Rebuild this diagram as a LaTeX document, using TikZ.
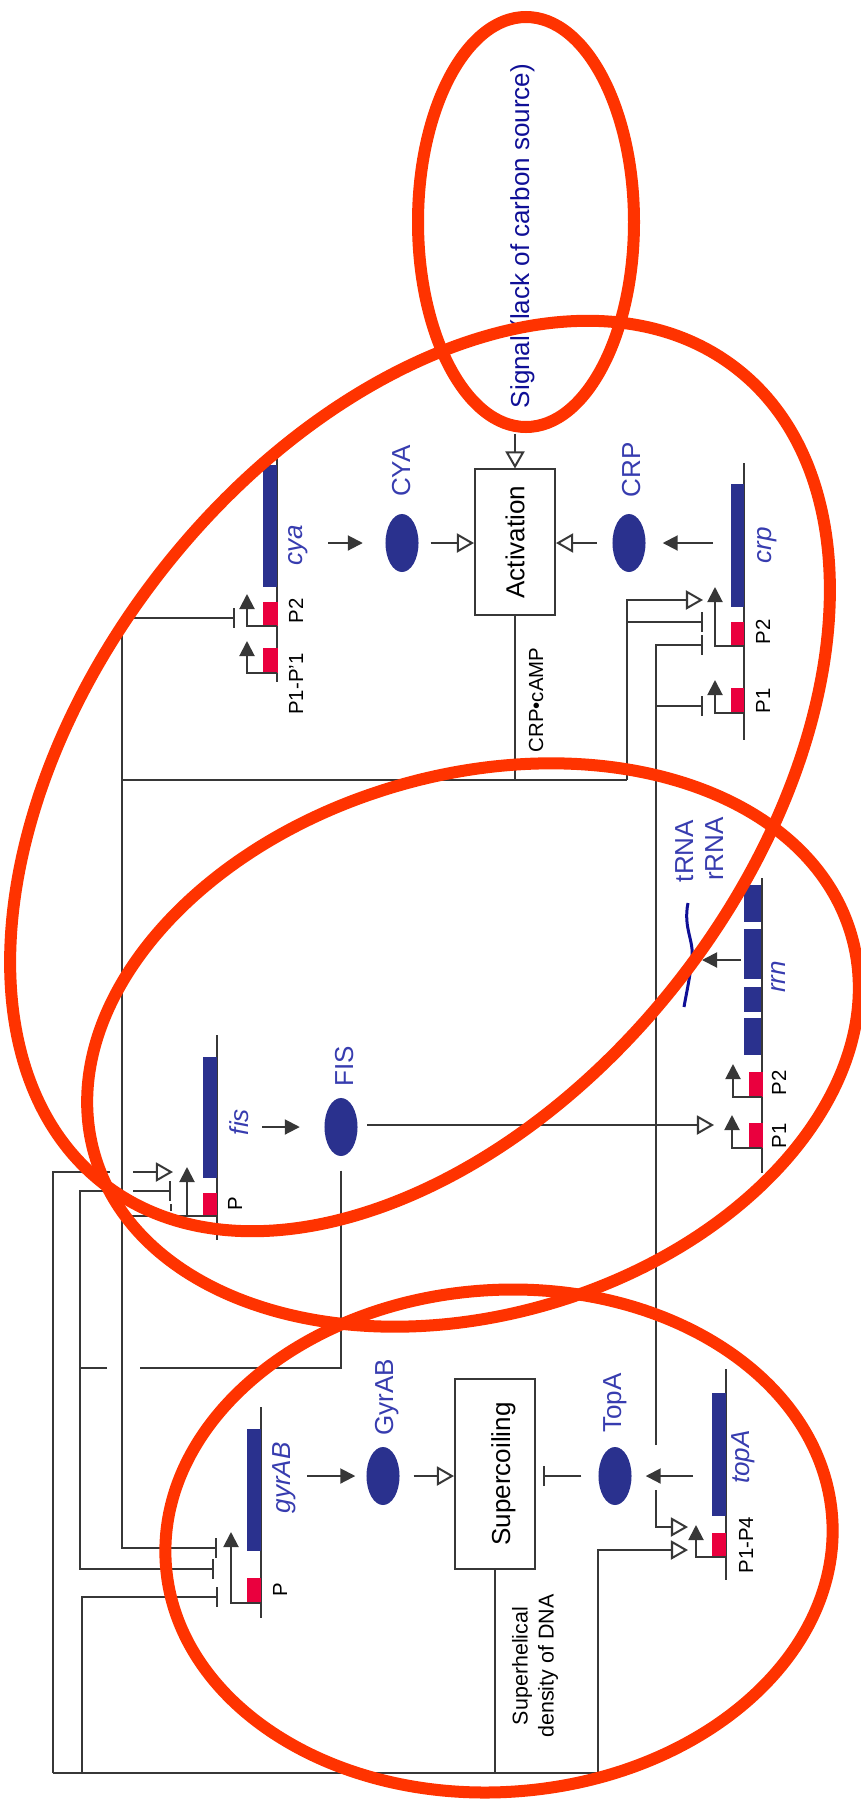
\documentclass[tikz,border=0pt]{standalone}
\usepackage{fontspec}
\setmainfont{Liberation Sans}
\usetikzlibrary{positioning, arrows.meta, shapes.geometric, calc}

\definecolor{ringred}{RGB}{255,51,0}
\definecolor{genblue}{RGB}{42,49,142}
\definecolor{promred}{RGB}{234,0,62}
\definecolor{protblue}{RGB}{55,60,175}
\definecolor{signavy}{RGB}{15,15,150}
\definecolor{wiregray}{RGB}{55,55,55}

\newcommand{\labtxt}{\fontsize{7.4}{8.5}\selectfont}
\newcommand{\promtxt}{\fontsize{5.8}{7.4}\selectfont}

\tikzset{
  wire/.style={draw=wiregray, line width=0.2mm},
  prod/.style={wire, -{Triangle[length=1.5mm, width=1.5mm]}},
  act/.style={wire, -{Triangle[open, length=1.7mm, width=1.9mm]}},
  inh/.style={wire, -{Bar[width=2mm]}},
  ring/.style={draw=ringred, line width=1.2mm},
  prot/.style={ellipse, fill=genblue, minimum width=3.3mm, minimum height=5.8mm, inner sep=0pt},
  procbox/.style={wire, rotate=90, font=\labtxt, minimum height=8mm},
  lab/.style={rotate=90, anchor=base, inner sep=0pt},
  protlab/.style={lab, text=protblue, font=\labtxt},
  genelab/.style={lab, text=protblue, font=\labtxt\itshape},
  plab/.style={lab, font=\promtxt},
}

\begin{document}
\begin{tikzpicture}[x=0.01cm, y=-0.01cm]
\useasboundingbox (0,0) rectangle (861,1809);

% cya
\draw[wire] (277,453) -- (277,682);
\fill[genblue] (263,465) rectangle (277,587);
\fill[promred] (263,602) rectangle (278,626);
\fill[promred] (263,648) rectangle (278,673);
\draw[prod] (277,626) -- (247,626) -- (247,594);
\draw[prod] (277,673) -- (247,673) -- (247,641);

% crp
\draw[wire] (744,463) -- (744,740);
\fill[genblue] (731,484) rectangle (744,607);
\fill[promred] (731,622) rectangle (744,646);
\fill[promred] (731,688) rectangle (744,713);
\draw[prod] (744,646) -- (715,646) -- (715,587);
\draw[prod] (744,713) -- (715,713) -- (715,680);

% fis
\draw[wire] (217,1035) -- (217,1240);
\fill[genblue] (203,1057) rectangle (217,1178);
\fill[promred] (203,1193) rectangle (217,1217);
\draw[prod] (217,1216) -- (187,1216) -- (187,1167);

% rrn
\draw[wire] (762,878) -- (762,1173);
\fill[genblue] (744,885) rectangle (761,922);
\fill[genblue] (744,929) rectangle (761,979);
\fill[genblue] (744,987) rectangle (761,1012);
\fill[genblue] (744,1018) rectangle (761,1055);
\fill[promred] (749,1072) rectangle (763,1097);
\fill[promred] (749,1123) rectangle (763,1148);
\draw[prod] (762,1097) -- (733,1097) -- (733,1064);
\draw[prod] (762,1148) -- (732,1148) -- (732,1115);
\draw[signavy, line width=0.3mm] (688,903) .. controls (683,928) and (694,940) .. (692,958)
  .. controls (690,978) and (686,995) .. (684,1007);

% gyrAB
\draw[wire] (261,1407) -- (261,1618);
\fill[genblue] (247,1429) rectangle (261,1551);
\fill[promred] (247,1578) rectangle (261,1602);
\draw[prod] (261,1603) -- (231,1603) -- (231,1532);

% topA
\draw[wire] (726,1369) -- (726,1580);
\fill[genblue] (712,1393) rectangle (726,1516);
\fill[promred] (712,1533) rectangle (726,1557);
\draw[prod] (726,1557) -- (696,1557) -- (696,1525);

% proteins and boxes
\node[prot] (CYA) at (402,543) {};
\node[prot] (CRP) at (629,543) {};
\node[prot] (FIS) at (341,1127) {};
\node[prot] (GyrAB) at (383,1476) {};
\node[prot] (TopA) at (615,1476) {};

\node[procbox, minimum width=14.5mm] (act) at (515,542) {Activation};
\node[procbox, minimum width=18.9mm, text height=3mm, text depth=0mm] (sup) at (495,1474) {Supercoiling};

% labels
\node[lab, text=signavy, font=\labtxt] (signal) at (529,236) {Signal (lack of carbon source)};
\node[protlab] (cyaL) at (410,471) {CYA};
\node[protlab] (crpL) at (640,470) {CRP};
\node[protlab] (fisL) at (353,1066) {FIS};
\node[protlab] (gyrL) at (393,1397) {GyrAB};
\node[protlab] (topL) at (621,1403) {TopA};
\node[protlab] (trna) at (693,851) {tRNA};
\node[protlab] (rrna) at (723,849) {rRNA};
\node[genelab] (cyaG) at (302,545) {cya};
\node[genelab] (crpG) at (771,545) {crp};
\node[genelab] (fisG) at (248,1122) {fis};
\node[genelab] (gyrG) at (290,1478) {gyrAB};
\node[genelab] (topG) at (749,1457) {topA};
\node[genelab] (rrnG) at (785,977) {rrn};
\node[plab] (cyaP2) at (303,611) {P2};
\node[plab] (cyaP1) at (303,684) {P1-P'1};
\node[plab] (crpP2) at (770,632) {P2};
\node[plab] (crpP1) at (770,701) {P1};
\node[plab] (fisP) at (242,1204) {P};
\node[plab] (rrnP2) at (786,1083) {P2};
\node[plab] (rrnP1) at (786,1136) {P1};
\node[plab] (gyrP) at (287,1590) {P};
\node[plab] (topP) at (753,1545) {P1-P4};
\node[plab] (campL) at (543,700) {CRP•cAMP};
\node[plab, anchor=center, align=center, font=\fontsize{6.1}{7.4}\selectfont] (shdL) at (535,1666) {Superhelical\\density of DNA};

% free ends and bends
\coordinate (cyaout) at (328,543);
\coordinate (crpout) at (713,543);
\coordinate (fisout) at (262,1127);
\coordinate (gyrout) at (307,1476);
\coordinate (topout) at (693,1476);
\coordinate (rrnout) at (741,960);
\coordinate (rnatip) at (702,960);
\coordinate (campW) at (122,780);
\coordinate (campE) at (627,780);
\coordinate (cyaI) at (235,618);
\coordinate (gyrI1) at (217,1548);
\coordinate (gyrI2) at (214,1569);
\coordinate (gyrI3) at (218,1597);
\coordinate (fisbase) at (187,1216);
\coordinate (crpA) at (703,600);
\coordinate (crpI1) at (703,622);
\coordinate (crpI2) at (703,645);
\coordinate (crpI3) at (703,706);
\coordinate (fisJ) at (656,1125);
\coordinate (rrnA) at (714,1125);
\coordinate (fisup) at (656,1445);
\coordinate (fislow) at (656,1490);
\coordinate (topA1) at (688,1527);
\coordinate (topA2) at (688,1550);
\coordinate (fisdn) at (140,1368);
\coordinate (fishop) at (107,1368);
\coordinate (fisleft) at (80,1368);
\coordinate (fisIgap) at (110,1191);
\coordinate (fisIhop) at (133,1191);
\coordinate (fisI) at (171,1191);
\coordinate (fisAgap) at (110,1172);
\coordinate (fisAhop) at (133,1172);
\coordinate (fisA) at (173,1172);
\coordinate (shW) at (53,1773);
\coordinate (shG) at (82,1773);
\coordinate (shE) at (598,1773);

% production
\draw[prod, shorten >=2.2mm] (cyaout) -- (CYA.west);
\draw[prod, shorten >=1.65mm] (crpout) -- (CRP.east);
\draw[prod, shorten >=2.4mm] (fisout) -- (FIS.west);
\draw[prod, shorten >=1.05mm] (gyrout) -- (GyrAB.west);
\draw[prod, shorten >=1.35mm] (topout) -- (TopA.east);
\draw[prod] (rrnout) -- (rnatip);

% activation box
\draw[act, shorten <=2.5mm] (act.east |- signal.west) -- (act.east);
\draw[act, shorten <=1.15mm] (CYA.east) -- (CYA.east -| act.north);
\draw[act, shorten <=1.5mm] (CRP.west) -- (CRP.west -| act.south);
\draw[wire] (act.west) -- (act.west |- campW);
\draw[wire] (campW) -- (campE);
\draw[inh] (campW) |- (cyaI);
\draw[inh] (campW) |- (gyrI1);
\draw[wire] (campW |- fisbase) -- (fisbase);
\draw[act] (campE) |- (crpA);
\draw[inh] (campE |- crpI1) -- (crpI1);

% FIS
\draw[act, shorten <=0.9mm] (FIS.east |- fisJ) -- (rrnA);
\draw[inh] (fisup) |- (crpI2);
\draw[inh] (fisJ |- crpI3) -- (crpI3);
\draw[act] (fislow) |- (topA1);
\draw[wire, shorten <=1.4mm] (FIS.south) |- (fisdn);
\draw[wire] (fishop) -- (fisleft);
\draw[wire] (fisleft) |- (fisIgap);
\draw[inh] (fisIhop) -- (fisI);
\draw[wire, dash pattern=on 0.7mm off 0.5mm] ($(fisI)+(0,13)$) -- ($(fisI)+(0,35)$);
\draw[inh] (fisleft) |- (gyrI2);

% supercoiling
\draw[act, shorten <=1.35mm] (GyrAB.east) -- (GyrAB.east -| sup.north);
\draw[inh, shorten <=1.65mm, shorten >=0.7mm] (TopA.west) -- (TopA.west -| sup.south);
\draw[wire] (sup.west) -- (sup.west |- shE);
\draw[wire] (shW) -- (shE);
\draw[wire] (shW) |- (fisAgap);
\draw[act] (fisAhop) -- (fisA);
\draw[inh] (shG) |- (gyrI3);
\draw[act] (shE) |- (topA2);

% rings
\draw[ring] (526,222) ellipse [x radius=108, y radius=205];
\draw[ring, rotate around={52.2:(420,776)}] (420,776) ellipse [x radius=516, y radius=330];
\draw[ring, rotate around={16.2:(473,1045)}] (473,1045) ellipse [x radius=394, y radius=270];
\draw[ring, rotate around={4.1:(499,1541)}] (499,1541) ellipse [x radius=334, y radius=251];

\end{tikzpicture}
\end{document}
